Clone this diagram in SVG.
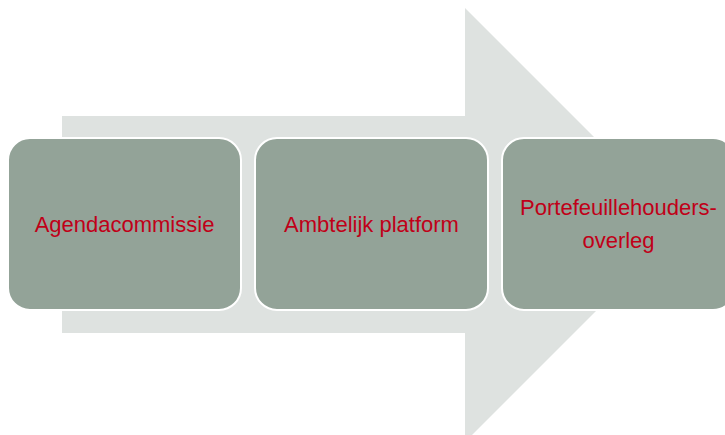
<svg xmlns="http://www.w3.org/2000/svg" width="725" height="435" viewBox="0 0 725 435">
<style>
.box{fill:#93a398;stroke:#ffffff;stroke-width:2}
.lbl{font-family:"Liberation Sans",Arial,sans-serif;font-size:22px;fill:#c00018;text-anchor:middle}
</style>
<rect width="725" height="435" fill="#ffffff"/>
<g id="connectors">
<polygon points="62,116 465,116 465,8 682,225 465,442 465,333 62,333" fill="#dee2e0"/>
</g>
<g id="node1">
<rect class="box" x="8" y="138" width="233" height="172" rx="22" ry="22"/>
<text class="lbl" x="124.5" y="232">Agendacommissie</text>
</g>
<g id="node2">
<rect class="box" x="255" y="138" width="233" height="172" rx="22" ry="22"/>
<text class="lbl" x="371.5" y="232">Ambtelijk platform</text>
</g>
<g id="node3">
<rect class="box" x="502" y="138" width="233" height="172" rx="22" ry="22"/>
<text class="lbl" x="618.5" y="215">Portefeuillehouders-</text>
<text class="lbl" x="618.5" y="248">overleg</text>
</g>
</svg>
